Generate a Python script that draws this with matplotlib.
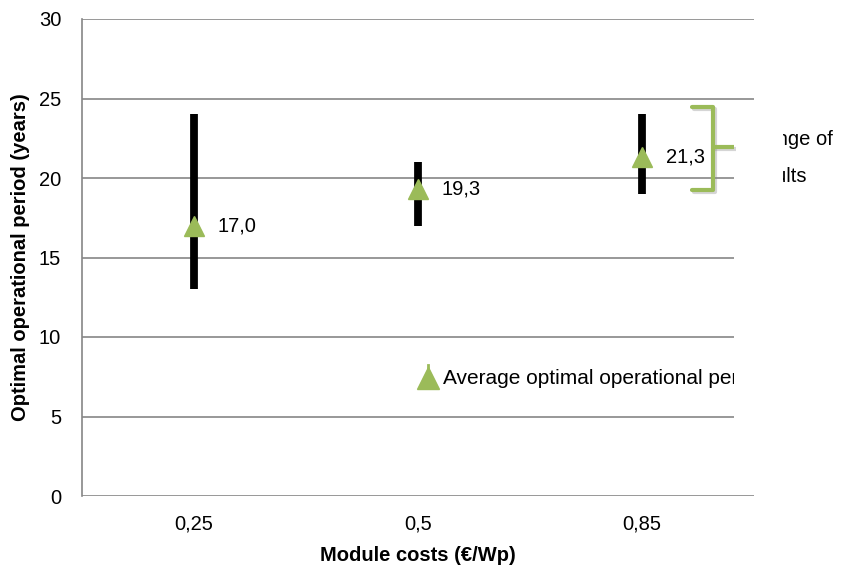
import matplotlib
matplotlib.use("Agg")
import matplotlib.pyplot as plt
from matplotlib.patches import Rectangle
from matplotlib.lines import Line2D
import matplotlib.patheffects as pe

plt.rcParams['font.family'] = ['Liberation Sans', 'DejaVu Sans']

# Data
categories = ["0,25", "0,5", "0,85"]
range_min = [13, 17, 19]
range_max = [24, 21, 24]
average = [17.0, 19.3, 21.3]

W, H = 843, 568
fig = plt.figure(figsize=(W / 100, H / 100), dpi=100)

def fx(px):
    return px / W

def fy(py):
    return 1 - py / H

ax = fig.add_axes([fx(82), fy(496), fx(754) - fx(82), fy(19) - fy(496)])

grid_col = "#868686"
green = "#9BBB59"
FS = 14.5

x = list(range(len(categories)))
ax.vlines(x, range_min, range_max, colors="black", linewidth=5.6, zorder=3)
ax.plot(x, average, linestyle="none", marker="^", markersize=15,
        color=green, markeredgecolor=green, zorder=4)
for xi, v in zip(x, average):
    ax.annotate(f"{v:.1f}".replace(".", ","), (xi, v), xytext=(17, 0),
                textcoords="offset points", ha="left", va="center",
                fontsize=FS, color="black", zorder=5)

ax.set_xlim(-0.5, 2.5)
ax.set_ylim(0, 30)
ax.set_yticks(range(0, 31, 5))
ax.set_xticks(x)
ax.set_xticklabels(categories)
ax.tick_params(axis="both", length=0, labelsize=FS, colors="black")
ax.tick_params(axis="y", pad=15)
ax.tick_params(axis="x", pad=13)
ax.yaxis.grid(True, color=grid_col, linewidth=1.2, zorder=0)
ax.set_axisbelow(True)
for side in ("top", "right"):
    ax.spines[side].set_visible(False)
ax.spines["bottom"].set_visible(False)
ax.spines["left"].set_color(grid_col)
ax.spines["left"].set_linewidth(1.2)

ax.set_ylabel("Optimal operational period (years)", fontsize=FS,
              fontweight="bold", labelpad=6)
ax.set_xlabel("Module costs (€/Wp)", fontsize=FS, fontweight="bold",
              labelpad=9)

# Legend entries
fig.add_artist(Line2D([fx(428), fx(428)], [fy(372), fy(365)], color=green,
                      linewidth=2, zorder=3))
fig.add_artist(Line2D([fx(428)], [fy(378)], marker="^", markersize=16,
                      color=green, linestyle="none", zorder=3))
fig.text(fx(443), fy(378), "Average optimal operational period", fontsize=15,
         ha="left", va="center", zorder=3)
fig.text(fx(751), fy(139), "Range of", fontsize=FS, ha="left",
         va="center", zorder=3)
fig.text(fx(748), fy(177), "results", fontsize=FS, ha="left",
         va="center", zorder=3)

# Legend box cover
fig.add_artist(Rectangle((fx(734), fy(470)), fx(783) - fx(734),
                         fy(100) - fy(470), transform=fig.transFigure,
                         facecolor="white", edgecolor="none", zorder=4))

# Bracket legend symbol with a soft shadow
shadow = [pe.SimpleLineShadow(offset=(1.5, -1.5), shadow_color="#888888",
                              alpha=0.35), pe.Normal()]
bx = [fx(692), fx(713), fx(713), fx(692)]
by = [fy(107), fy(107), fy(190), fy(190)]
fig.add_artist(Line2D(bx, by, color=green, linewidth=3.0, zorder=5,
                      solid_joinstyle="round", solid_capstyle="round",
                      path_effects=shadow))
fig.add_artist(Line2D([fx(713), fx(734)], [fy(147), fy(147)], color=green,
                      linewidth=3.0, zorder=5, solid_capstyle="butt",
                      path_effects=shadow))

fig.savefig("out.png", dpi=100)
